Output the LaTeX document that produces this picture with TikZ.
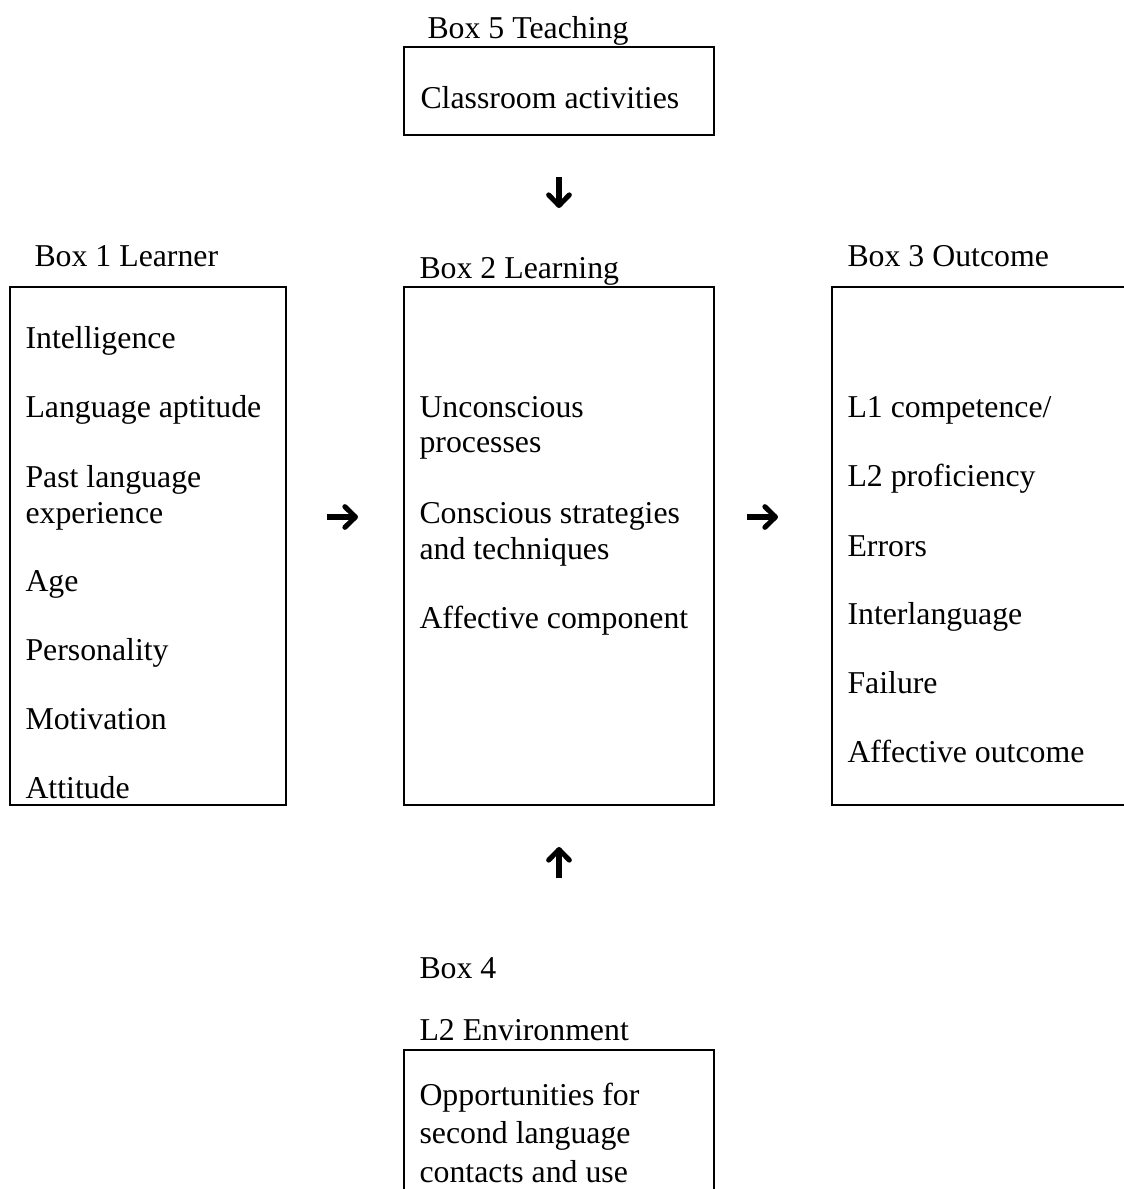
\documentclass[tikz,border=0pt]{standalone}
\usepackage{fontspec}
\setmainfont{Liberation Serif}
\usetikzlibrary{arrows.meta}
\def\pu{0.3774pt}
\begin{document}
\begin{tikzpicture}[x=\pu,y=-\pu,
  box/.style={draw, line width=0.8pt, inner sep=0pt},
  txt/.style={anchor=base west, inner sep=0pt, font=\fontsize{12}{14}\selectfont},
  arr/.style={line width=1.9pt, -{Straight Barb[length=4pt,width=7.8pt,line cap=round,line join=round]}}]
  \path[use as bounding box] (0,0) rectangle (1124,1189);
  \clip (0,0) rectangle (1124,1189);

  % boxes
  \node[box, minimum width=310*\pu, minimum height=88*\pu]  (b5) at (559,91) {};
  \node[box, minimum width=276*\pu, minimum height=518*\pu] (b1) at (148,546) {};
  \node[box, minimum width=310*\pu, minimum height=518*\pu] (b2) at (559,546) {};
  \node[box, minimum width=318*\pu, minimum height=518*\pu] (b3) at (991,546) {};
  \node[box, minimum width=310*\pu, minimum height=160*\pu] (b4) at (559,1130) {};

  % titles
  \node[txt] (t5) at (427,38) {Box 5 Teaching};
  \node[txt] (t1) at (34,266) {Box 1 Learner};
  \node[txt] (t2) at (419,278) {Box 2 Learning};
  \node[txt] (t3) at (847,266) {Box 3 Outcome};
  \node[txt] (t4a) at (419,978) {Box 4};
  \node[txt] (t4b) at (419,1040) {L2 Environment};

  % Box 5 content
  \node[txt] (c5) at (420,108) {Classroom activities};

  % Box 1 content
  \node[txt] (l1) at (25,348) {Intelligence};
  \node[txt] (l2) at (25,417) {Language aptitude};
  \node[txt] (l3) at (25,487) {Past language};
  \node[txt] (l4) at (25,523) {experience};
  \node[txt] (l5) at (25,591) {Age};
  \node[txt] (l6) at (25,660) {Personality};
  \node[txt] (l7) at (25,729) {Motivation};
  \node[txt] (l8) at (25,798) {Attitude};

  % Box 2 content
  \node[txt] (m1) at (419,417) {Unconscious};
  \node[txt] (m2) at (419,452) {processes};
  \node[txt] (m3) at (419,523) {Conscious strategies};
  \node[txt] (m4) at (419,559) {and techniques};
  \node[txt] (m5) at (419,628) {Affective component};

  % Box 3 content
  \node[txt] (r1) at (847,417) {L1 competence/};
  \node[txt] (r2) at (847,486) {L2 proficiency};
  \node[txt] (r3) at (847,556) {Errors};
  \node[txt] (r4) at (847,624) {Interlanguage};
  \node[txt] (r5) at (847,693) {Failure};
  \node[txt] (r6) at (847,762) {Affective outcome};

  % Box 4 content
  \node[txt] (e1) at (419,1105) {Opportunities for};
  \node[txt] (e2) at (419,1143) {second language};
  \node[txt] (e3) at (419,1182) {contacts and use};

  % arrows between the boxes
  \coordinate (d5s) at (559,177);  \coordinate (d5e) at (559,208);
  \coordinate (a12s) at (327,517); \coordinate (a12e) at (358,517);
  \coordinate (a23s) at (747,517); \coordinate (a23e) at (778,517);
  \coordinate (u4s) at (559,878);  \coordinate (u4e) at (559,847);
  \draw[arr] (d5s) -- (d5e);
  \draw[arr] (a12s) -- (a12e);
  \draw[arr] (a23s) -- (a23e);
  \draw[arr] (u4s) -- (u4e);
\end{tikzpicture}
\end{document}
